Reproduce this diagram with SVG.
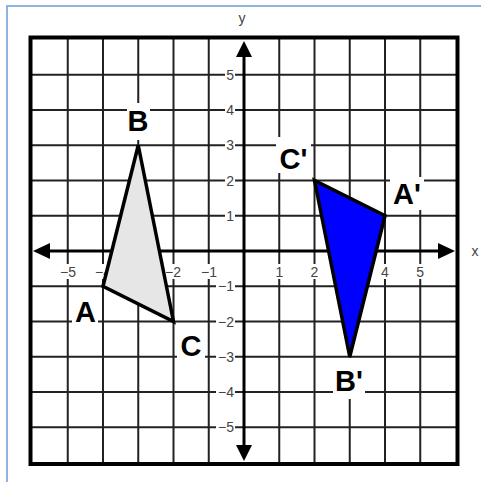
<svg xmlns="http://www.w3.org/2000/svg" width="481" height="482" viewBox="0 0 481 482">
<style>
.grid{stroke:#222;stroke-width:2;fill:none}
.frame{stroke:#000;stroke-width:4;fill:none}
.axis{stroke:#000;stroke-width:3;fill:none}
.tick{font-family:"Liberation Sans",Arial,sans-serif;font-size:14px;fill:#444}
.bg{fill:#fff}
.lbl{font-family:"Liberation Sans",Arial,sans-serif;font-size:29px;font-weight:bold;fill:#000;text-anchor:middle}
.tri{stroke:#000;stroke-width:3.5;stroke-linejoin:miter}
</style>
<rect x="0" y="0" width="481" height="482" fill="#fff"/>
<path d="M7,482 V6 H481" stroke="#6b9bd9" stroke-width="1.5" fill="none"/>
<g id="grid" class="grid">
<path d="M67.75,37.5V464 M103,37.5V464 M138.25,37.5V464 M173.5,37.5V464 M208.75,37.5V464 M279.25,37.5V464 M314.5,37.5V464 M349.75,37.5V464 M385,37.5V464 M420.25,37.5V464"/>
<path d="M30.5,74.75H457.5 M30.5,110H457.5 M30.5,145.25H457.5 M30.5,180.5H457.5 M30.5,215.75H457.5 M30.5,286.25H457.5 M30.5,321.5H457.5 M30.5,356.75H457.5 M30.5,392H457.5 M30.5,427.25H457.5"/>
</g>
<rect class="frame" x="30.5" y="37.5" width="427" height="426.5"/>
<g id="ticks">
<g class="bg">
<rect x="225" y="68" width="10" height="14"/>
<rect x="225" y="103" width="10" height="14"/>
<rect x="225" y="138" width="10" height="14"/>
<rect x="225" y="173" width="10" height="14"/>
<rect x="225" y="209" width="10" height="14"/>
<rect x="216" y="279" width="19" height="14"/>
<rect x="216" y="315" width="19" height="14"/>
<rect x="216" y="350" width="19" height="14"/>
<rect x="216" y="385" width="19" height="14"/>
<rect x="216" y="420" width="19" height="14"/>
<rect x="58" y="264" width="20" height="15"/>
<rect x="93" y="264" width="20" height="15"/>
<rect x="128" y="264" width="20" height="15"/>
<rect x="163" y="264" width="20" height="15"/>
<rect x="199" y="264" width="20" height="15"/>
<rect x="274" y="264" width="11" height="15"/>
<rect x="309" y="264" width="11" height="15"/>
<rect x="344" y="264" width="11" height="15"/>
<rect x="379" y="264" width="11" height="15"/>
<rect x="415" y="264" width="11" height="15"/>
</g>
<g class="tick" text-anchor="end">
<text x="234" y="80">5</text>
<text x="234" y="115">4</text>
<text x="234" y="150">3</text>
<text x="234" y="185.5">2</text>
<text x="234" y="221">1</text>
<text x="234" y="291">−1</text>
<text x="234" y="326.5">−2</text>
<text x="234" y="362">−3</text>
<text x="234" y="397">−4</text>
<text x="234" y="432">−5</text>
</g>
<g class="tick" text-anchor="middle">
<text x="68" y="277">−5</text>
<text x="103" y="277">−4</text>
<text x="138" y="277">−3</text>
<text x="173" y="277">−2</text>
<text x="209" y="277">−1</text>
<text x="279.5" y="277">1</text>
<text x="314.5" y="277">2</text>
<text x="349.75" y="277">3</text>
<text x="385" y="277">4</text>
<text x="420.25" y="277">5</text>
</g>
<text class="tick" x="242" y="23" text-anchor="middle" fill="#555">y</text>
<text class="tick" x="475" y="256" text-anchor="middle" fill="#555">x</text>
</g>
<g id="axes">
<path class="axis" d="M244,52V450 M45,251H443"/>
<path d="M244,41L236,57H252Z M244,461L236,445H252Z M33,251L50,243V259Z M455,251L438,243V259Z" fill="#000"/>
</g>
<g id="triangle-ABC">
<polygon class="tri" points="103,286.25 138.25,145.25 173.5,321.5" fill="#e6e6e6"/>
</g>
<g id="triangle-A-B-C-prime">
<polygon class="tri" points="385,215.75 349.75,356.75 314.5,180.5" fill="#0000ff"/>
</g>
<g id="label-B"><rect class="bg" x="127" y="103" width="23" height="37"/><text class="lbl" x="138" y="131">B</text></g>
<g id="label-A"><rect class="bg" x="72" y="294" width="26" height="34"/><text class="lbl" x="85.5" y="322">A</text></g>
<g id="label-C"><rect class="bg" x="177" y="328" width="28" height="34"/><text class="lbl" x="191" y="356">C</text></g>
<g id="label-C-prime"><rect class="bg" x="276" y="137" width="35" height="36"/><text class="lbl" x="293.5" y="169">C'</text></g>
<g id="label-A-prime"><rect class="bg" x="390" y="177" width="34" height="33"/><text class="lbl" x="407" y="204">A'</text></g>
<g id="label-B-prime"><rect class="bg" x="333" y="358" width="32" height="41"/><text class="lbl" x="349" y="391">B'</text></g>
</svg>
